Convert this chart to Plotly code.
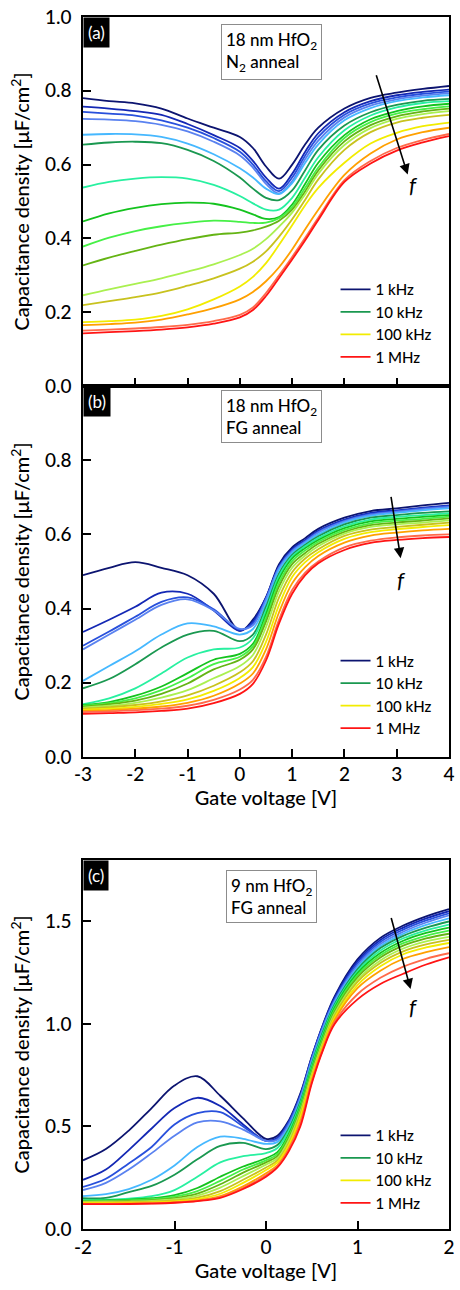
import plotly.graph_objects as go

# frequencies (one curve each), colours and legend entries
freq_labels = ["1 kHz", "2 kHz", "3 kHz", "5 kHz", "7 kHz", "10 kHz", "15 kHz", "20 kHz",
               "30 kHz", "40 kHz", "50 kHz", "70 kHz", "100 kHz", "200 kHz", "500 kHz", "1 MHz"]
colors = ["#0c1470", "#1428b4", "#2850dc", "#5a82f0", "#46b8ff", "#1a9850", "#28f0a0", "#14c31e",
          "#46f046", "#64b414", "#aaf050", "#c8c21e", "#f2ec00", "#ffa000", "#ff6a4a", "#ff1414"]
legend_labels = ["1 kHz", "10 kHz", "100 kHz", "1 MHz"]

# gate voltage grids
vg_ab = [-3, -2.5, -2, -1.5, -1, -0.5, 0, 0.25, 0.5, 0.75, 1, 1.25, 1.5, 2, 2.5, 3, 3.5, 4]
vg_c = [-2, -1.75, -1.5, -1.25, -1, -0.75, -0.5, -0.25, 0, 0.125, 0.25, 0.375, 0.5, 0.625,
        0.75, 1, 1.25, 1.5, 1.75, 2]

# (a) 18 nm HfO2, N2 anneal  [uF/cm2]
cap_a = [
    [0.780, 0.772, 0.766, 0.752, 0.725, 0.700, 0.675, 0.645, 0.595, 0.562, 0.600, 0.655, 0.700, 0.752, 0.781, 0.795, 0.805, 0.813],
    [0.757, 0.752, 0.745, 0.735, 0.710, 0.680, 0.645, 0.610, 0.565, 0.535, 0.575, 0.635, 0.685, 0.742, 0.772, 0.788, 0.797, 0.803],
    [0.743, 0.738, 0.733, 0.720, 0.700, 0.672, 0.635, 0.600, 0.555, 0.528, 0.565, 0.625, 0.675, 0.735, 0.766, 0.782, 0.792, 0.798],
    [0.724, 0.722, 0.718, 0.708, 0.690, 0.662, 0.625, 0.592, 0.548, 0.522, 0.555, 0.615, 0.665, 0.728, 0.760, 0.777, 0.787, 0.793],
    [0.681, 0.683, 0.682, 0.675, 0.657, 0.628, 0.590, 0.565, 0.535, 0.520, 0.550, 0.605, 0.655, 0.720, 0.753, 0.772, 0.782, 0.788],
    [0.654, 0.660, 0.662, 0.658, 0.640, 0.610, 0.565, 0.535, 0.510, 0.504, 0.530, 0.585, 0.640, 0.706, 0.742, 0.762, 0.773, 0.778],
    [0.538, 0.553, 0.562, 0.566, 0.562, 0.545, 0.515, 0.495, 0.478, 0.478, 0.510, 0.565, 0.620, 0.693, 0.733, 0.755, 0.767, 0.772],
    [0.446, 0.468, 0.483, 0.493, 0.497, 0.494, 0.478, 0.465, 0.453, 0.458, 0.492, 0.548, 0.605, 0.680, 0.723, 0.745, 0.758, 0.765],
    [0.378, 0.402, 0.420, 0.433, 0.442, 0.448, 0.445, 0.442, 0.443, 0.455, 0.485, 0.537, 0.592, 0.672, 0.715, 0.738, 0.750, 0.758],
    [0.327, 0.348, 0.366, 0.383, 0.398, 0.410, 0.416, 0.422, 0.432, 0.448, 0.478, 0.528, 0.584, 0.663, 0.707, 0.731, 0.744, 0.752],
    [0.246, 0.262, 0.277, 0.292, 0.310, 0.330, 0.355, 0.372, 0.398, 0.432, 0.470, 0.520, 0.575, 0.653, 0.699, 0.724, 0.737, 0.745],
    [0.219, 0.230, 0.241, 0.254, 0.272, 0.292, 0.318, 0.337, 0.365, 0.405, 0.452, 0.505, 0.560, 0.640, 0.688, 0.714, 0.727, 0.735],
    [0.173, 0.176, 0.180, 0.190, 0.208, 0.235, 0.270, 0.296, 0.333, 0.383, 0.436, 0.490, 0.537, 0.605, 0.657, 0.686, 0.704, 0.714],
    [0.165, 0.168, 0.172, 0.180, 0.194, 0.211, 0.235, 0.255, 0.284, 0.322, 0.370, 0.425, 0.478, 0.572, 0.630, 0.668, 0.688, 0.700],
    [0.150, 0.153, 0.156, 0.160, 0.166, 0.176, 0.193, 0.213, 0.252, 0.300, 0.350, 0.402, 0.456, 0.558, 0.610, 0.645, 0.667, 0.683],
    [0.143, 0.146, 0.149, 0.153, 0.159, 0.169, 0.186, 0.206, 0.244, 0.293, 0.343, 0.395, 0.450, 0.553, 0.603, 0.638, 0.660, 0.677],
]

# (b) 18 nm HfO2, FG anneal
cap_b = [
    [0.490, 0.510, 0.525, 0.510, 0.490, 0.440, 0.340, 0.370, 0.430, 0.520, 0.565, 0.590, 0.615, 0.645, 0.663, 0.670, 0.678, 0.685],
    [0.337, 0.370, 0.405, 0.443, 0.440, 0.395, 0.340, 0.365, 0.430, 0.515, 0.560, 0.585, 0.610, 0.640, 0.658, 0.665, 0.672, 0.678],
    [0.300, 0.338, 0.378, 0.418, 0.430, 0.398, 0.343, 0.360, 0.427, 0.512, 0.557, 0.582, 0.607, 0.637, 0.655, 0.663, 0.670, 0.676],
    [0.290, 0.330, 0.370, 0.410, 0.425, 0.395, 0.345, 0.355, 0.425, 0.510, 0.555, 0.580, 0.605, 0.635, 0.653, 0.661, 0.668, 0.674],
    [0.205, 0.245, 0.285, 0.330, 0.360, 0.352, 0.330, 0.345, 0.415, 0.505, 0.550, 0.577, 0.600, 0.632, 0.650, 0.658, 0.665, 0.670],
    [0.185, 0.210, 0.250, 0.295, 0.330, 0.340, 0.312, 0.330, 0.405, 0.495, 0.545, 0.572, 0.595, 0.627, 0.645, 0.652, 0.658, 0.662],
    [0.142, 0.158, 0.185, 0.225, 0.268, 0.290, 0.295, 0.320, 0.395, 0.488, 0.540, 0.568, 0.590, 0.622, 0.640, 0.647, 0.652, 0.657],
    [0.140, 0.148, 0.165, 0.190, 0.226, 0.262, 0.278, 0.305, 0.385, 0.480, 0.535, 0.563, 0.585, 0.617, 0.635, 0.642, 0.647, 0.652],
    [0.138, 0.145, 0.158, 0.180, 0.212, 0.250, 0.270, 0.298, 0.375, 0.470, 0.528, 0.557, 0.580, 0.612, 0.630, 0.637, 0.642, 0.648],
    [0.135, 0.142, 0.152, 0.170, 0.198, 0.236, 0.262, 0.290, 0.365, 0.460, 0.520, 0.550, 0.575, 0.607, 0.625, 0.632, 0.637, 0.643],
    [0.133, 0.138, 0.146, 0.160, 0.180, 0.212, 0.245, 0.275, 0.350, 0.447, 0.510, 0.543, 0.568, 0.602, 0.620, 0.627, 0.632, 0.638],
    [0.130, 0.134, 0.140, 0.150, 0.166, 0.192, 0.228, 0.258, 0.330, 0.430, 0.498, 0.535, 0.560, 0.596, 0.613, 0.620, 0.626, 0.632],
    [0.127, 0.130, 0.135, 0.143, 0.155, 0.178, 0.213, 0.242, 0.310, 0.410, 0.485, 0.525, 0.552, 0.588, 0.606, 0.614, 0.620, 0.625],
    [0.124, 0.126, 0.130, 0.136, 0.146, 0.165, 0.198, 0.225, 0.290, 0.390, 0.468, 0.512, 0.542, 0.578, 0.597, 0.605, 0.611, 0.615],
    [0.121, 0.123, 0.126, 0.130, 0.138, 0.154, 0.182, 0.208, 0.270, 0.370, 0.450, 0.497, 0.527, 0.565, 0.583, 0.592, 0.597, 0.600],
    [0.116, 0.118, 0.120, 0.124, 0.130, 0.145, 0.170, 0.197, 0.260, 0.360, 0.440, 0.490, 0.522, 0.558, 0.577, 0.585, 0.590, 0.593],
]

# (c) 9 nm HfO2, FG anneal
cap_c = [
    [0.335, 0.390, 0.480, 0.590, 0.700, 0.745, 0.650, 0.540, 0.440, 0.455, 0.530, 0.660, 0.840, 1.000, 1.135, 1.315, 1.420, 1.480, 1.525, 1.560],
    [0.240, 0.290, 0.385, 0.490, 0.590, 0.640, 0.600, 0.510, 0.430, 0.445, 0.525, 0.655, 0.838, 0.997, 1.128, 1.305, 1.410, 1.470, 1.515, 1.550],
    [0.205, 0.245, 0.320, 0.400, 0.510, 0.565, 0.570, 0.500, 0.430, 0.440, 0.520, 0.648, 0.832, 0.993, 1.120, 1.295, 1.400, 1.460, 1.505, 1.540],
    [0.190, 0.225, 0.290, 0.370, 0.455, 0.520, 0.525, 0.485, 0.430, 0.435, 0.510, 0.640, 0.825, 0.985, 1.113, 1.285, 1.390, 1.450, 1.495, 1.530],
    [0.160, 0.170, 0.195, 0.240, 0.310, 0.400, 0.450, 0.440, 0.415, 0.425, 0.500, 0.630, 0.815, 0.975, 1.105, 1.275, 1.380, 1.440, 1.483, 1.515],
    [0.150, 0.152, 0.180, 0.210, 0.265, 0.340, 0.405, 0.420, 0.390, 0.410, 0.490, 0.620, 0.805, 0.965, 1.095, 1.266, 1.370, 1.430, 1.470, 1.500],
    [0.141, 0.143, 0.148, 0.160, 0.190, 0.255, 0.325, 0.355, 0.370, 0.395, 0.480, 0.610, 0.795, 0.955, 1.088, 1.257, 1.358, 1.418, 1.457, 1.485],
    [0.138, 0.140, 0.143, 0.150, 0.165, 0.200, 0.255, 0.305, 0.345, 0.375, 0.465, 0.600, 0.785, 0.945, 1.080, 1.248, 1.346, 1.406, 1.444, 1.470],
    [0.136, 0.137, 0.140, 0.145, 0.158, 0.185, 0.235, 0.290, 0.335, 0.365, 0.455, 0.590, 0.775, 0.935, 1.070, 1.238, 1.335, 1.394, 1.430, 1.455],
    [0.134, 0.135, 0.137, 0.141, 0.151, 0.173, 0.218, 0.275, 0.325, 0.355, 0.445, 0.580, 0.765, 0.925, 1.060, 1.227, 1.324, 1.382, 1.417, 1.440],
    [0.132, 0.133, 0.134, 0.137, 0.145, 0.163, 0.202, 0.258, 0.314, 0.345, 0.435, 0.570, 0.755, 0.915, 1.050, 1.215, 1.310, 1.368, 1.403, 1.425],
    [0.130, 0.130, 0.131, 0.133, 0.139, 0.153, 0.185, 0.240, 0.300, 0.335, 0.420, 0.560, 0.745, 0.905, 1.040, 1.205, 1.297, 1.354, 1.388, 1.410],
    [0.127, 0.127, 0.128, 0.130, 0.135, 0.146, 0.172, 0.225, 0.288, 0.325, 0.410, 0.545, 0.738, 0.897, 1.030, 1.190, 1.282, 1.340, 1.373, 1.395],
    [0.124, 0.124, 0.125, 0.127, 0.131, 0.140, 0.160, 0.208, 0.272, 0.312, 0.395, 0.525, 0.728, 0.890, 1.020, 1.175, 1.260, 1.318, 1.350, 1.375],
    [0.122, 0.122, 0.123, 0.125, 0.129, 0.137, 0.155, 0.200, 0.262, 0.305, 0.388, 0.512, 0.717, 0.880, 1.008, 1.145, 1.225, 1.280, 1.318, 1.345],
    [0.121, 0.121, 0.122, 0.124, 0.128, 0.136, 0.152, 0.195, 0.255, 0.300, 0.380, 0.500, 0.710, 0.875, 1.000, 1.120, 1.195, 1.245, 1.290, 1.325],
]

xticks_ab = [-3, -2, -1, 0, 1, 2, 3, 4]
xticks_c = [-2, -1, 0, 1, 2]
yticks_ab = [0.0, 0.2, 0.4, 0.6, 0.8, 1.0]
yticks_c = [0.0, 0.5, 1.0, 1.5]

FONT = "Lato"
fig = go.Figure()

panels = [
    ("x", "y", "legend", vg_ab, cap_a),
    ("x2", "y2", "legend2", vg_ab, cap_b),
    ("x3", "y3", "legend3", vg_c, cap_c),
]
for xa, ya, lg, vg, cap in panels:
    for lab, col, vals in zip(freq_labels, colors, cap):
        fig.add_trace(go.Scatter(
            x=vg, y=vals, mode="lines", name=lab,
            line=dict(color=col, width=1.8, shape="spline"),
            xaxis=xa, yaxis=ya, legend=lg,
            showlegend=lab in legend_labels,
        ))

axis_style = dict(showline=True, linecolor="black", linewidth=1.5, mirror=True,
                  ticks="inside", ticklen=8, tickwidth=1.5, tickcolor="black",
                  showgrid=False, zeroline=False, ticklabeloverflow="allow",
                  tickfont=dict(family=FONT, size=19, color="black", weight=500))
ytitle = "Capacitance density [μF/cm<sup>2</sup>]"
title_font = dict(family=FONT, size=20, color="black", weight=500)

fig.update_layout(
    width=460, height=1290,
    margin=dict(l=83, r=5, t=14, b=61),
    plot_bgcolor="white", paper_bgcolor="white",
    font=dict(family=FONT, color="black"),
    xaxis=dict(axis_style, domain=[0, 1], range=[-3, 4], tickvals=xticks_ab,
               showticklabels=False, anchor="y"),
    yaxis=dict(axis_style, domain=[0.6955, 1.0], range=[0, 1.0], tickvals=yticks_ab,
               tickformat=".1f", anchor="x", ticklabelstandoff=6,
               title=dict(text=ytitle, font=title_font, standoff=10)),
    xaxis2=dict(axis_style, domain=[0, 1], range=[-3, 4], tickvals=xticks_ab,
                ticktext=[str(t) for t in xticks_ab], anchor="y2",
                title=dict(text="Gate voltage [V]", font=title_font, standoff=4)),
    yaxis2=dict(axis_style, domain=[0.3895, 0.6955], range=[0, 1.0], tickvals=yticks_ab[:-1],
                tickformat=".1f", anchor="x2", ticklabelstandoff=6,
                title=dict(text=ytitle, font=title_font, standoff=10)),
    xaxis3=dict(axis_style, domain=[0, 1], range=[-2, 2], tickvals=xticks_c,
                ticktext=[str(t) for t in xticks_c], anchor="y3",
                title=dict(text="Gate voltage [V]", font=title_font, standoff=4)),
    yaxis3=dict(axis_style, domain=[0, 0.3045], range=[0, 1.8], tickvals=yticks_c,
                tickformat=".1f", anchor="x3", ticklabelstandoff=6,
                title=dict(text=ytitle, font=title_font, standoff=10)),
)

leg_style = dict(xanchor="left", yanchor="top", x=0.69, bgcolor="rgba(0,0,0,0)",
                 font=dict(family=FONT, size=15, color="black", weight=500), itemwidth=30,
                 tracegroupgap=0)
fig.update_layout(
    legend=dict(leg_style, y=0.7887),
    legend2=dict(leg_style, y=0.4823),
    legend3=dict(leg_style, y=0.0907),
)

# panel letters, sample boxes, frequency arrows
boxes = [
    ("x", "y", "(a)", "18 nm HfO<sub>2</sub><br>N<sub>2</sub> anneal", 0.376, 0.98, (3.21, 0.573, 2.60, 0.846), (3.32, 0.546)),
    ("x2", "y2", "(b)", "18 nm HfO<sub>2</sub><br>FG anneal", 0.376, 0.99, (3.075, 0.536, 2.887, 0.705), (3.09, 0.479)),
    ("x3", "y3", "(c)", "9 nm HfO<sub>2</sub><br>FG anneal", 0.39, 0.972, (1.58, 1.17, 1.364, 1.524), (1.61, 1.087)),
]
for xa, ya, letter, sample, bx, by, arr, ftxt in boxes:
    fig.add_annotation(xref=f"{xa} domain", yref=f"{ya} domain", x=0, y=1,
                       xanchor="left", yanchor="top", text=letter, showarrow=False,
                       bgcolor="black", borderpad=4,
                       font=dict(family=FONT, size=17, color="white"))
    fig.add_annotation(xref=f"{xa} domain", yref=f"{ya} domain", x=bx, y=by,
                       xanchor="left", yanchor="top", text=sample, showarrow=False,
                       align="left", bgcolor="white", bordercolor="#8c8c8c",
                       borderwidth=1, borderpad=4,
                       font=dict(family=FONT, size=17, color="black", weight=500))
    fig.add_annotation(xref=xa, yref=ya, axref=xa, ayref=ya,
                       x=arr[0], y=arr[1], ax=arr[2], ay=arr[3], text="",
                       showarrow=True, arrowhead=2, arrowsize=1.3, arrowwidth=1.6,
                       arrowcolor="black")
    fig.add_annotation(xref=xa, yref=ya, x=ftxt[0], y=ftxt[1], text="<i>f</i>",
                       showarrow=False, font=dict(family=FONT, size=22, color="black"))

# page body has a default 8px margin; drop it so the figure fills the window exactly
fig.write_html("out.html", config={"displayModeBar": False},
               post_script="document.body.style.margin='0';document.body.style.overflow='hidden';")
